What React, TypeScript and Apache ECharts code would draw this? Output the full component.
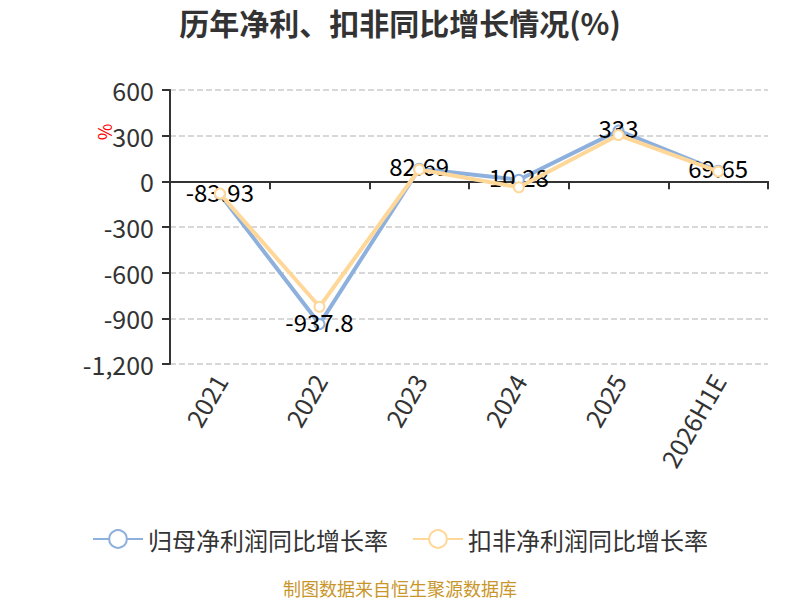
import React, { useEffect, useRef } from "react";
import * as echarts from "echarts";

const categories = ["2021", "2022", "2023", "2024", "2025", "2026H1E"];
const parentNetGrowth = [-83.93, -937.8, 82.69, 10.28, 333, 69.65];
const deductedNetGrowth = [-80, -824, 78, -39, 304, 65];
const yTicks = { min: -1200, max: 600, interval: 300 };
const seriesNames = ["归母净利润同比增长率", "扣非净利润同比增长率"];

const FONT = "'Noto Sans CJK SC', 'Noto Sans', sans-serif";

export default function App() {
  const ref = useRef<HTMLDivElement>(null);
  useEffect(() => {
    if (!ref.current) return;
    document.body.style.margin = "0";
    const chart = echarts.init(ref.current, undefined, { renderer: "svg" });
    chart.setOption({
      animation: false,
      backgroundColor: "#fff",
      textStyle: { fontFamily: FONT },
      title: {
        text: "历年净利、扣非同比增长情况(%)",
        left: "center",
        top: 2,
        textStyle: { fontSize: 30, fontWeight: "bold", color: "#333", fontFamily: FONT },
      },
      graphic: [
        {
          type: "text",
          x: 104,
          y: 132,
          rotation: Math.PI / 2,
          style: {
            text: "%",
            fill: "#ff0000",
            fontSize: 18,
            align: "center",
            verticalAlign: "middle",
            fontFamily: FONT,
          },
        },
        {
          type: "text",
          x: 400,
          y: 588,
          style: {
            text: "制图数据来自恒生聚源数据库",
            fill: "#c9962b",
            fontSize: 18,
            align: "center",
            verticalAlign: "middle",
            fontFamily: FONT,
          },
        },
      ],
      legend: {
        data: seriesNames,
        top: 522,
        left: "center",
        itemWidth: 50,
        itemHeight: 22,
        itemGap: 24,
        textStyle: { fontSize: 24, color: "#333", fontFamily: FONT },
      },
      grid: { left: 170, right: 32, top: 90, bottom: 236, containLabel: false },
      xAxis: [
        {
          type: "category",
          data: categories,
          position: "bottom",
          axisLine: { show: false, onZero: false },
          axisTick: { show: false },
          axisLabel: { rotate: 60, fontSize: 25, color: "#333", margin: 12, fontFamily: FONT },
        },
        {
          type: "category",
          data: categories,
          position: "bottom",
          axisLine: { show: true, onZero: true, lineStyle: { color: "#333", width: 2 } },
          axisTick: { show: true, length: 8, lineStyle: { color: "#333", width: 2 } },
          axisLabel: { show: false },
          splitLine: { show: false },
        },
      ],
      yAxis: {
        type: "value",
        min: yTicks.min,
        max: yTicks.max,
        interval: yTicks.interval,
        axisLine: { show: true, lineStyle: { color: "#333", width: 2 } },
        axisTick: { show: true, length: 8, lineStyle: { color: "#333", width: 2 } },
        axisLabel: {
          fontSize: 25,
          color: "#333",
          margin: 16,
          fontFamily: FONT,
          formatter: (v: number) => v.toLocaleString("en-US"),
        },
        splitLine: { show: true, lineStyle: { type: "dashed", color: "#cccccc", width: 1.5 } },
      },
      series: [
        {
          name: seriesNames[0],
          type: "line",
          data: parentNetGrowth,
          xAxisIndex: 0,
          symbol: "emptyCircle",
          symbolSize: 10,
          itemStyle: { color: "#8eb0dd", borderWidth: 2 },
          lineStyle: { color: "#8eb0dd", width: 4 },
          label: {
            show: true,
            position: "inside",
            offset: [0, -3],
            fontSize: 24,
            color: "#000",
            fontFamily: FONT,
          },
          z: 2,
        },
        {
          name: seriesNames[1],
          type: "line",
          data: deductedNetGrowth,
          xAxisIndex: 0,
          symbol: "emptyCircle",
          symbolSize: 10,
          itemStyle: { color: "#ffd899", borderWidth: 2 },
          lineStyle: { color: "#ffd899", width: 4 },
          label: { show: false },
          z: 3,
        },
      ],
    });
    return () => chart.dispose();
  }, []);
  return <div ref={ref} style={{ width: 800, height: 600 }} />;
}
